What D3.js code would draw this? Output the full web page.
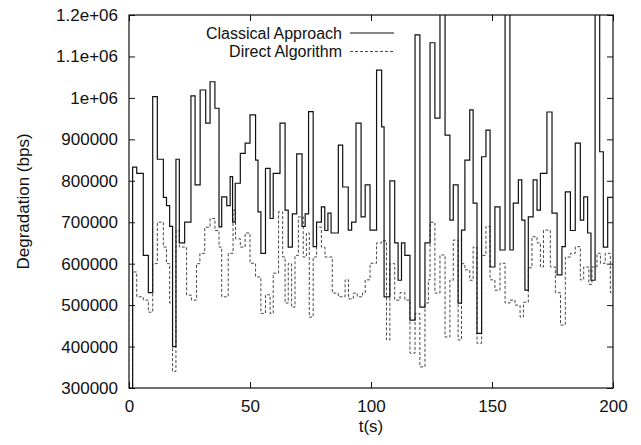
<!DOCTYPE html>
<html>
<head>
<meta charset="utf-8">
<script src="https://cdn.jsdelivr.net/npm/d3@7"></script>
<style>
  html, body { margin: 0; padding: 0; background: #fff; }
  svg text { font-family: "Liberation Sans", Arial, Helvetica, sans-serif; fill: #111; }
</style>
</head>
<body>
<svg id="chart" width="641" height="445"></svg>
<script>
// ---- data ----
const classicalT = [0,1.5,3.2,5.9,8.0,9.8,11.7,14.2,15.5,16.8,18.0,19.4,20.8,23.0,25.6,27.3,29.4,31.7,33.5,35.5,37.2,38.3,40.4,41.8,42.8,43.9,46.0,48.0,50.0,52.3,53.3,54.5,56.4,58.3,59.6,62.4,64.5,65.8,67.5,69.3,71.5,72.8,74.2,76.1,77.5,79.5,80.9,82.2,83.5,86.5,88.3,90.6,92.0,93.8,95.9,97.6,99.6,102.3,104.4,105.4,107.8,109.8,111.2,112.6,114.0,116.1,118.2,120.2,122.3,124.4,126.4,128.5,130.6,132.6,134.0,136.0,137.4,138.8,140.8,142.2,143.8,145.7,147.5,149.2,151.2,153.3,155.4,157.4,158.8,160.9,162.3,163.6,165.0,167.0,168.6,170.0,172.7,174.8,176.9,178.9,180.3,182.4,184.4,186.5,187.9,189.5,190.9,192.6,194.5,196.0,197.8,200];
const classicalV = [0,833000,818000,620000,530000,1003000,852000,760000,740000,690000,400000,852000,650000,700000,1005000,790000,1019000,939000,1039000,975000,689000,761000,740000,810000,700000,794000,866000,891000,959000,850000,725000,625000,830000,709000,818000,939000,729000,640000,720000,865000,690000,720000,967000,641000,700000,737000,680000,722000,674000,886000,785000,681000,700000,939000,713000,790000,681000,1067000,930000,520000,800000,650000,560000,650000,620000,464000,1152000,495000,650000,1133000,951000,1250000,910000,705000,790000,505000,681000,850000,971000,746000,432000,858000,922000,592000,737000,633000,1250000,633000,746000,802000,705000,536000,713000,802000,729000,818000,966000,722000,573000,641000,773000,680000,891000,705000,761000,674000,560000,1250000,870000,640000,760000,760000];

const directT = [0,1.5,3.2,5.9,8.0,9.8,11.7,14.2,15.5,16.8,18.0,19.4,20.8,23.8,25.8,27.9,29.3,31.3,33.5,35.5,37.2,38.3,41.0,43.0,44.0,46.0,48.0,50.0,52.3,54.5,56.4,58.3,59.6,61.8,63.5,64.5,65.8,67.2,68.6,70.0,72.0,73.3,74.5,76.1,77.5,79.5,81.0,84.0,86.5,89.3,90.7,92.7,94.3,96.5,97.6,99.6,102.3,104.4,106.4,107.8,109.8,112.0,114.0,116.1,118.2,120.2,122.3,123.7,124.4,126.4,128.5,130.6,132.6,134.0,136.0,137.4,138.8,140.8,142.2,143.8,145.7,147.5,149.2,151.2,153.3,155.4,157.4,159.5,161.6,163.0,165.0,166.5,168.6,170.0,171.3,174.1,176.2,178.3,180.3,182.4,184.4,186.5,187.9,190.0,191.3,193.4,194.8,196.8,198.9,200];
const directV = [0,580000,520000,512000,483000,600000,700000,640000,600000,505000,340000,680000,640000,524000,512000,600000,625000,688000,709000,680000,640000,520000,625000,729000,660000,640000,674000,601000,568000,480000,525000,480000,577000,725000,616000,505000,600000,495000,620000,713000,616000,674000,471000,616000,688000,640000,616000,529000,520000,561000,515000,529000,520000,529000,561000,601000,650000,655000,416000,600000,512000,530000,512000,384000,480000,351000,505000,561000,700000,529000,621000,423000,560000,657000,416000,600000,585000,560000,640000,408000,620000,690000,561000,536000,601000,505000,512000,500000,471000,507000,590000,665000,650000,592000,681000,592000,530000,452000,616000,625000,641000,561000,592000,550000,592000,625000,601000,625000,530000,530000];

const seriesNames = ["Classical Approach", "Direct Algorithm"];
const xTicks = [0, 50, 100, 150, 200];
const yTicks = [300000, 400000, 500000, 600000, 700000, 800000, 900000, 1000000, 1100000, 1200000];
const yTickLabels = ["300000", "400000", "500000", "600000", "700000", "800000", "900000", "1e+06", "1.1e+06", "1.2e+06"];
const xTitle = "t(s)";
const yTitle = "Degradation (bps)";

// ---- layout ----
const W = 641, H = 445;
const m = { left: 129, right: 28, top: 15, bottom: 57 };
const iw = W - m.left - m.right, ih = H - m.top - m.bottom;
const ink = "#111";
const fs = 17;

const svg = d3.select("#chart");
const x = d3.scaleLinear().domain([0, 200]).range([m.left, m.left + iw]);
const y = d3.scaleLinear().domain([300000, 1200000]).range([m.top + ih, m.top]);

svg.append("defs").append("clipPath").attr("id", "clip")
  .append("rect").attr("x", m.left).attr("y", m.top).attr("width", iw).attr("height", ih);

// axes with inward ticks (gnuplot style, mirrored)
const tl = 6;
const gxB = svg.append("g").attr("transform", `translate(0,${m.top + ih})`)
  .call(d3.axisBottom(x).tickValues(xTicks).tickSizeInner(-tl).tickSizeOuter(0).tickPadding(12).tickFormat(d3.format("d")));
const gxT = svg.append("g").attr("transform", `translate(0,${m.top})`)
  .call(d3.axisTop(x).tickValues(xTicks).tickSizeInner(-tl).tickSizeOuter(0).tickFormat(""));
const gyL = svg.append("g").attr("transform", `translate(${m.left},0)`)
  .call(d3.axisLeft(y).tickValues(yTicks).tickSizeInner(-tl).tickSizeOuter(0).tickPadding(11)
    .tickFormat(d => yTickLabels[yTicks.indexOf(d)]));
const gyR = svg.append("g").attr("transform", `translate(${m.left + iw},0)`)
  .call(d3.axisRight(y).tickValues(yTicks).tickSizeInner(-tl).tickSizeOuter(0).tickFormat(""));

[gxB, gxT, gyL, gyR].forEach(g => {
  g.select(".domain").remove();
  g.selectAll("line").attr("stroke", ink).attr("stroke-width", 1);
  g.selectAll("text").attr("font-size", fs).attr("fill", ink)
    .style("font-family", '"Liberation Sans", Arial, sans-serif');
});

// frame
svg.append("rect").attr("x", m.left).attr("y", m.top).attr("width", iw).attr("height", ih)
  .attr("fill", "none").attr("stroke", ink).attr("stroke-width", 1.2);

// titles
svg.append("text").attr("x", x(100)).attr("y", 432).attr("text-anchor", "middle")
  .attr("font-size", fs).text(xTitle);
svg.append("text").attr("transform", `translate(29,${m.top + ih / 2}) rotate(-90)`)
  .attr("text-anchor", "middle").attr("font-size", fs).text(yTitle);

// lines
const mk = (T, V) => T.map((t, i) => ({ t, v: V[i] }));
const line = d3.line().x(d => x(d.t)).y(d => y(d.v)).curve(d3.curveStepAfter);
const plot = svg.append("g").attr("clip-path", "url(#clip)");
plot.append("path").datum(mk(directT, directV)).attr("d", line)
  .attr("fill", "none").attr("stroke", "#333").attr("stroke-width", 0.9).attr("stroke-dasharray", "3,2");
plot.append("path").datum(mk(classicalT, classicalV)).attr("d", line)
  .attr("fill", "none").attr("stroke", ink).attr("stroke-width", 1.2);

// legend
const lg = svg.append("g");
const styles = [{ dash: null, w: 1.2, c: ink }, { dash: "3,2", w: 0.9, c: "#333" }];
seriesNames.forEach((n, i) => {
  const yy = 33 + i * 18.5;
  lg.append("text").attr("x", 342).attr("y", yy).attr("dy", "0.35em").attr("text-anchor", "end")
    .attr("font-size", 16).text(n);
  lg.append("line").attr("x1", 350).attr("x2", 394).attr("y1", yy).attr("y2", yy)
    .attr("stroke", styles[i].c).attr("stroke-width", styles[i].w)
    .attr("stroke-dasharray", styles[i].dash);
});
</script>
</body>
</html>
